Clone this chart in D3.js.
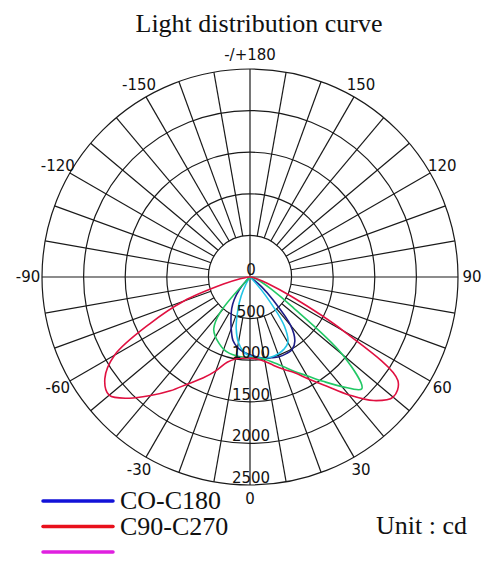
<!DOCTYPE html>
<html>
<head>
<meta charset="utf-8">
<script src="https://cdn.jsdelivr.net/npm/d3@7"></script>
<style>
  body { margin: 0; background: #fff; }
</style>
</head>
<body>
<div id="chart"></div>
<script>
// gamma angles, 0 = straight down, + to the right
const angles = [-90,-85,-80,-75,-70,-65,-60,-55,-50,-45,-40,-35,-30,-25,-20,-15,-10,-5,0,
                5,10,15,20,25,30,35,40,45,50,55,60,65,70,75,80,85,90];

// intensities in cd
const navyValues  = [0,0,0,0,0,0,0,0,0,60,200,330,440,540,660,790,860,905,935,
                     965,990,1005,1020,1020,1010,940,760,400,180,30,0,0,0,0,0,0,0];
const cyanValues  = [0,0,0,0,0,0,0,0,0,0,0,0,90,250,430,640,800,900,950,
                     975,990,995,985,960,910,720,300,50,0,0,0,0,0,0,0,0,0];
const greenValues = [0,0,0,0,0,0,0,0,0,0,560,760,830,880,925,950,960,965,970,
                     980,1005,1060,1140,1250,1370,1530,1720,1900,1450,600,300,170,90,40,10,0,0];
const redValues   = [0,30,120,330,850,1330,1880,2130,2210,2060,1860,1670,1480,1340,1200,1060,1000,980,975,
                     990,1030,1100,1180,1270,1420,1600,1850,2100,2245,2170,1300,540,220,100,40,10,0];

const ringValues = [0, 500, 1000, 1500, 2000, 2500];
const angleTicks = [180, 150, 120, 90, 60, 30, 0, -30, -60, -90, -120, -150];
const angleTickLabels = ["-/+180", "150", "120", "90", "60", "30", "0", "-30", "-60", "-90", "-120", "-150"];
const legendNames = ["CO-C180", "C90-C270", ""];

const conf = {
  width: 500,
  height: 573,
  cx: 250,
  cy: 277,
  radius: 208,
  labelRadius: 222,
  gridColor: "#1a1a1a",
};

const series = [
  {values: navyValues,  color: "#1c1c86"},
  {values: cyanValues,  color: "#22c4e6"},
  {values: greenValues, color: "#22c865"},
  {values: redValues,   color: "#e01040"},
];
const legendColors = ["#1212d8", "#e8101c", "#e020e0"];

const svg = d3.select("#chart").append("svg")
  .attr("width", conf.width)
  .attr("height", conf.height)
  .attr("viewBox", [0, 0, conf.width, conf.height]);

const r = d3.scaleLinear([0, 2500], [0, conf.radius]);
// gamma -> d3 radial angle (0 at top, clockwise)
const toRad = g => (180 - g) * Math.PI / 180;

const g = svg.append("g").attr("transform", `translate(${conf.cx},${conf.cy})`);

// rings
g.selectAll("circle.ring")
  .data(ringValues.slice(1))
  .join("circle")
    .attr("class", "ring")
    .attr("r", d => r(d))
    .attr("fill", "none")
    .attr("stroke", conf.gridColor)
    .attr("stroke-width", 1.2);

// spokes every 10 degrees
const spokes = d3.range(-170, 190, 10);
g.selectAll("line.spoke")
  .data(spokes)
  .join("line")
    .attr("class", "spoke")
    .attr("x1", d => (d % 90 === 0 ? 0 : r(500)) * Math.sin(toRad(d)))
    .attr("y1", d => -(d % 90 === 0 ? 0 : r(500)) * Math.cos(toRad(d)))
    .attr("x2", d => r(2500) * Math.sin(toRad(d)))
    .attr("y2", d => -r(2500) * Math.cos(toRad(d)))
    .attr("stroke", conf.gridColor)
    .attr("stroke-width", 1.2);

// curves
const line = d3.lineRadial()
  .angle((d, i) => toRad(angles[i]))
  .radius(d => r(d))
  .curve(d3.curveCatmullRom.alpha(0.5));

g.selectAll("path.curve")
  .data(series)
  .join("path")
    .attr("class", "curve")
    .attr("d", d => line(d.values))
    .attr("fill", "none")
    .attr("stroke", d => d.color)
    .attr("stroke-width", 1.6);

// ring labels
g.selectAll("text.ringlabel")
  .data(ringValues)
  .join("text")
    .attr("class", "ringlabel")
    .attr("x", 1)
    .attr("y", d => r(d) - 2)
    .attr("text-anchor", "middle")
    .attr("font-family", "DejaVu Sans, sans-serif")
    .attr("font-size", 15)
    .attr("fill", "#111")
    .text(d => d);

// angle labels
g.selectAll("text.anglelabel")
  .data(angleTicks)
  .join("text")
    .attr("class", "anglelabel")
    .attr("x", d => conf.labelRadius * Math.sin(toRad(d)))
    .attr("y", d => -conf.labelRadius * Math.cos(toRad(d)))
    .attr("dy", "0.35em")
    .attr("text-anchor", "middle")
    .attr("font-family", "DejaVu Sans, sans-serif")
    .attr("font-size", 15)
    .attr("fill", "#111")
    .text((d, i) => angleTickLabels[i]);

// title
svg.append("text")
  .attr("x", 259)
  .attr("y", 32)
  .attr("text-anchor", "middle")
  .attr("font-family", "Liberation Serif, serif")
  .attr("font-size", 26)
  .attr("fill", "#111")
  .text("Light distribution curve");

// legend
const legend = svg.append("g");
legendColors.forEach((c, i) => {
  const y = 501 + i * 25.5;
  legend.append("line")
    .attr("x1", 43).attr("x2", 113)
    .attr("y1", y).attr("y2", y)
    .attr("stroke", c)
    .attr("stroke-width", 3.5)
    .attr("stroke-linecap", "round");
  legend.append("text")
    .attr("x", 120)
    .attr("y", y + 8)
    .attr("font-family", "Liberation Serif, serif")
    .attr("font-size", 26)
    .attr("fill", "#111")
    .text(legendNames[i]);
});

svg.append("text")
  .attr("x", 376)
  .attr("y", 534)
  .attr("font-family", "Liberation Serif, serif")
  .attr("font-size", 26)
  .attr("fill", "#111")
  .text("Unit : cd");
</script>
</body>
</html>
